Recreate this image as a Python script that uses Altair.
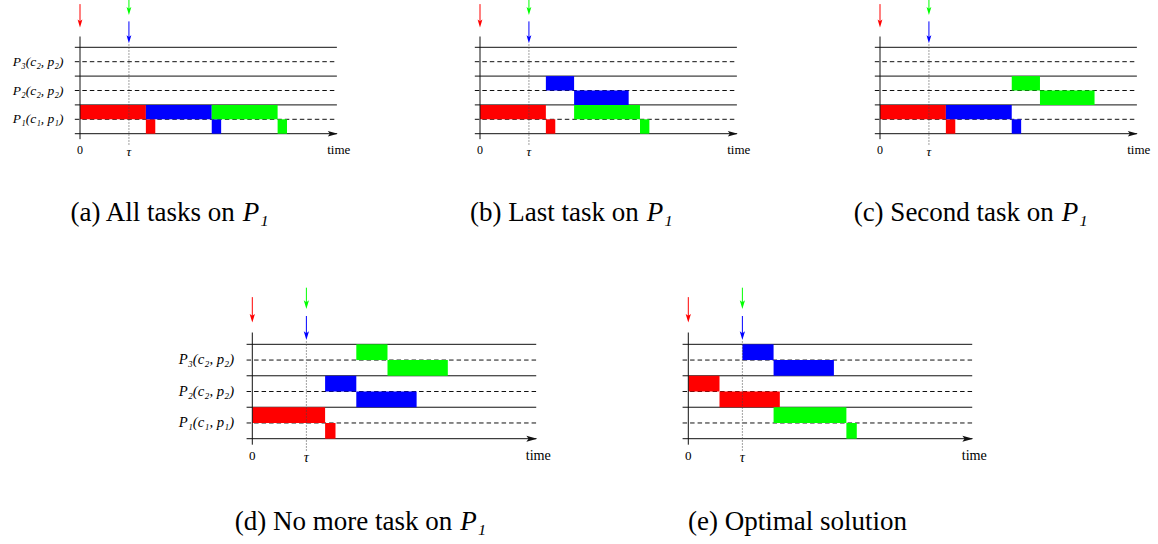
import altair as alt
import pandas as pd

# ---------------- data ----------------
TAU = 5.2  # release date of tasks 2 and 3

TASKS = ["task 1", "task 2", "task 3"]
TASK_COLORS = ["#ff0000", "#0000ff", "#00ff00"]

BAR_PANEL = ["a"] * 6 + ["b"] * 6 + ["c"] * 6 + ["d"] * 6 + ["e"] * 6
BAR_TASK = (["task 1", "task 1", "task 2", "task 2", "task 3", "task 3"] * 4
            + ["task 1", "task 1", "task 2", "task 2", "task 3", "task 3"])
BAR_PROC = ([1, 1, 1, 1, 1, 1]
            + [1, 1, 2, 2, 1, 1]
            + [1, 1, 1, 1, 2, 2]
            + [1, 1, 2, 2, 3, 3]
            + [2, 2, 3, 3, 1, 1])
BAR_PHASE = ["comm", "comp"] * 15
BAR_START = ([0, 7, 7, 14, 14, 21]
             + [0, 7, 7, 10, 10, 17]
             + [0, 7, 7, 14, 14, 17]
             + [0, 7, 7, 10, 10, 13]
             + [0, 3, 5.2, 8.2, 8.2, 15.2])
BAR_END = ([7, 8, 14, 15, 21, 22]
           + [7, 8, 10, 15.8, 17, 18]
           + [7, 8, 14, 15, 17, 22.8]
           + [7, 8, 10, 15.8, 13, 18.8]
           + [3, 8.8, 8.2, 14, 15.2, 16.2])

PROC_LABELS = ["P\u2083(c\u2082, p\u2082)", "P\u2082(c\u2082, p\u2082)", "P\u2081(c\u2081, p\u2081)"]
PROC_LABEL_Y = [5, 3, 1]

SOLID_Y = [0, 2, 4, 6]
DASHED_Y = [1, 3, 5]
TIME_END = 27.3

ARROW_TASK = ["task 1", "task 3", "task 2"]
ARROW_X = [0, TAU, TAU]
ARROW_TOP = [9.0, 9.6, 7.8]
ARROW_TIP = [7.38, 8.24, 6.28]

TICK_TEXT = ["0", "\u03c4"]
TICK_X = [0, TAU]

CAPTION_MAIN = ["(a) All tasks on", "(b) Last task on", "(c) Second task on",
                "(d) No more task on", "(e) Optimal solution"]
CAPTION_IT = ["P\u2081", "P\u2081", "P\u2081", "P\u2081", ""]

bars = pd.DataFrame(dict(panel=BAR_PANEL, task=BAR_TASK, proc=BAR_PROC,
                         phase=BAR_PHASE, start=BAR_START, end=BAR_END))
bars["y0"] = 2 * (bars["proc"] - 1) + (bars["phase"] == "comm").astype(int)
bars["y1"] = bars["y0"] + 1

FONT = "Liberation Serif"
ARROW_HEAD = "M0,0L-2.4,-8L0,-6.2L2.4,-8Z"
AXIS_HEAD = "M0,0L-10,-2.7L-8,0L-10,2.7Z"

color_scale = alt.Scale(domain=TASKS, range=TASK_COLORS)


def panel(idx, pid, width, height, xdom, ydom, k, show_labels, cap_x, cap_y, centered=False):
    xs = alt.Scale(domain=xdom, nice=False, zero=False)
    ys = alt.Scale(domain=ydom, nice=False, zero=False)

    def X(f):
        return alt.X(f, type="quantitative", scale=xs, axis=None)

    def Y(f):
        return alt.Y(f, type="quantitative", scale=ys, axis=None)

    layers = []
    solid = pd.DataFrame(dict(y=SOLID_Y, x0=-0.55, x1=TIME_END))
    layers.append(alt.Chart(solid).mark_rule(color="#111", strokeWidth=1).encode(
        x=X("x0"), x2="x1", y=Y("y")))
    dashed = pd.DataFrame(dict(y=DASHED_Y, x0=-0.55, x1=TIME_END))
    layers.append(alt.Chart(dashed).mark_rule(color="#111", strokeWidth=1, strokeDash=[4.5, 3]).encode(
        x=X("x0"), x2="x1", y=Y("y")))

    b = bars[bars["panel"] == pid]
    layers.append(alt.Chart(b).mark_rect(strokeWidth=0).encode(
        x=X("start"), x2="end", y=Y("y0"), y2="y1",
        color=alt.Color("task:N", scale=color_scale, legend=None)))

    vax = pd.DataFrame(dict(x=[0], y0=[-0.38], y1=[6.75]))
    layers.append(alt.Chart(vax).mark_rule(color="#111", strokeWidth=1).encode(
        x=X("x"), y=Y("y0"), y2="y1"))
    tau_line = pd.DataFrame(dict(x=[TAU], y0=[-0.75], y1=[6.28]))
    layers.append(alt.Chart(tau_line).mark_rule(color="#444", strokeWidth=1, strokeDash=[1, 2]).encode(
        x=X("x"), y=Y("y0"), y2="y1"))
    head = pd.DataFrame(dict(x=[TIME_END + 0.1], y=[0]))
    layers.append(alt.Chart(head).mark_point(shape=AXIS_HEAD, filled=True, size=4 * k * k,
                                             opacity=1, color="#111", strokeWidth=0).encode(
        x=X("x"), y=Y("y")))

    arrows = pd.DataFrame(dict(task=ARROW_TASK, x=ARROW_X, top=ARROW_TOP, tip=ARROW_TIP))
    arrows["shaft_end"] = arrows["tip"] + 0.3
    layers.append(alt.Chart(arrows).mark_rule(strokeWidth=1, clip=True).encode(
        x=X("x"), y=Y("top"), y2="shaft_end",
        color=alt.Color("task:N", scale=color_scale, legend=None)))
    layers.append(alt.Chart(arrows).mark_point(shape=ARROW_HEAD, filled=True, size=4 * k * k,
                                               opacity=1, strokeWidth=0).encode(
        x=X("x"), y=Y("tip"),
        color=alt.Color("task:N", scale=color_scale, legend=None)))

    ticks = pd.DataFrame(dict(t=[TICK_TEXT[0]], x=[TICK_X[0]], y=[-1.1]))
    layers.append(alt.Chart(ticks).mark_text(font=FONT, fontSize=12 * k, baseline="middle").encode(
        x=X("x"), y=Y("y"), text="t:N"))
    ticks2 = pd.DataFrame(dict(t=[TICK_TEXT[1]], x=[TICK_X[1]], y=[-1.25]))
    layers.append(alt.Chart(ticks2).mark_text(font=FONT, fontSize=13 * k, fontStyle="italic",
                                              baseline="middle").encode(
        x=X("x"), y=Y("y"), text="t:N"))
    tlab = pd.DataFrame(dict(t=["time"], x=[27.5], y=[-1.1]))
    layers.append(alt.Chart(tlab).mark_text(font=FONT, fontSize=13 * k, baseline="middle").encode(
        x=X("x"), y=Y("y"), text="t:N"))

    if show_labels:
        lab = pd.DataFrame(dict(t=PROC_LABELS, y=PROC_LABEL_Y, x=-1.75))
        layers.append(alt.Chart(lab).mark_text(font=FONT, fontSize=13.5 * k, fontStyle="italic",
                                               align="right", baseline="middle").encode(
            x=X("x"), y=Y("y"), text="t:N"))

    cap = pd.DataFrame(dict(t=[CAPTION_MAIN[idx]], it=[CAPTION_IT[idx]], x=[cap_x], y=[cap_y]))
    if centered:
        layers.append(alt.Chart(cap).mark_text(font=FONT, fontSize=27, align="center",
                                               baseline="middle").encode(
            x=X("x"), y=Y("y"), text="t:N"))
    else:
        layers.append(alt.Chart(cap).mark_text(font=FONT, fontSize=27, align="right",
                                               baseline="middle", dx=-4).encode(
            x=X("x"), y=Y("y"), text="t:N"))
        layers.append(alt.Chart(cap).mark_text(font=FONT, fontSize=27, fontStyle="italic",
                                               align="left", baseline="middle", dx=4).encode(
            x=X("x"), y=Y("y"), text="it:N"))

    return alt.layer(*layers).properties(width=width, height=height)


S1 = 9.41   # px per time unit, first row
S2 = 10.4   # px per time unit, second row
H1, H2 = 240, 304
yd1 = [-(H1 - 133.7) / 14.4, 133.7 / 14.4]
yd2 = [-(H2 - 198.7) / 15.73, 198.7 / 15.73]

pa = panel(0, "a", 400, H1, [-80 / S1, 320 / S1], yd1, 1.0, True, 16.88, -5.5)
pb = panel(1, "b", 400, H1, [-80 / S1, 320 / S1], yd1, 1.0, False, 17.3, -5.5)
pc = panel(2, "c", 358, H1, [-80 / S1, 278 / S1], yd1, 1.0, False, 18.9, -5.5)
pd_ = panel(3, "d", 560, H2, [-252.3 / S2, 307.7 / S2], yd2, 1.09, True, 19.6, -5.3)
pe = panel(4, "e", 598, H2, [-128.3 / S2, 469.7 / S2], yd2, 1.09, False, 10.5, -5.3, centered=True)

row1 = alt.hconcat(pa, pb, pc, spacing=0, bounds="flush")
row2 = alt.hconcat(pd_, pe, spacing=0, bounds="flush")
chart = (alt.vconcat(row1, row2, spacing=0)
         .properties(padding=0)
         .configure_view(stroke=None))

chart.save("out.html", embed_options={"renderer": "svg", "actions": False})
